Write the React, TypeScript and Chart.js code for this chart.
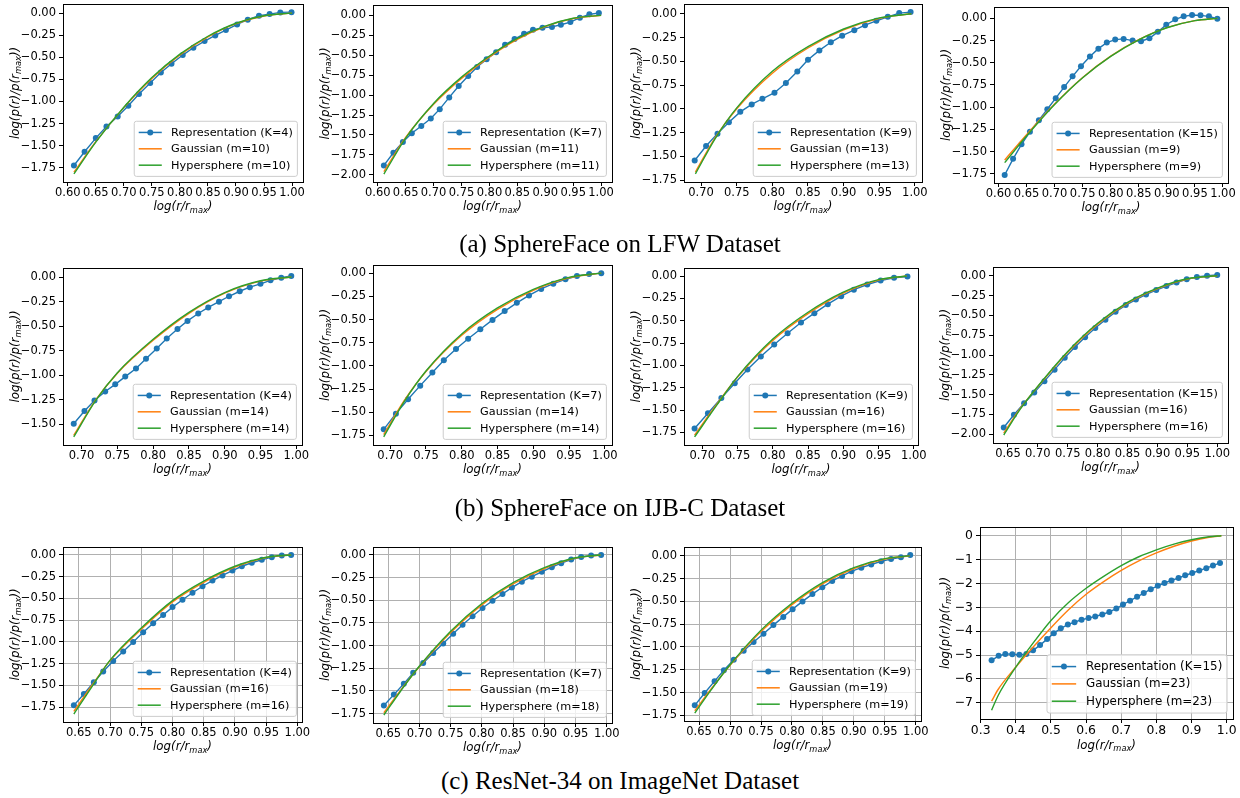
import React, { useEffect, useRef } from "react";
import { Chart, registerables } from "chart.js";
Chart.register(...registerables);

const BLUE = "#1f77b4";
const ORANGE = "#ff7f0e";
const GREEN = "#2ca02c";

// ---------- tick values ----------
const xTicks60 = [0.6, 0.65, 0.7, 0.75, 0.8, 0.85, 0.9, 0.95, 1.0];
const xTicks65 = [0.65, 0.7, 0.75, 0.8, 0.85, 0.9, 0.95, 1.0];
const xTicks70 = [0.7, 0.75, 0.8, 0.85, 0.9, 0.95, 1.0];
const xTicks30 = [0.3, 0.4, 0.5, 0.6, 0.7, 0.8, 0.9, 1.0];
const yTicks150 = [-1.5, -1.25, -1.0, -0.75, -0.5, -0.25, 0];
const yTicks175 = [-1.75, -1.5, -1.25, -1.0, -0.75, -0.5, -0.25, 0];
const yTicks200 = [-2.0, -1.75, -1.5, -1.25, -1.0, -0.75, -0.5, -0.25, 0];
const yTicks7 = [-7, -6, -5, -4, -3, -2, -1, 0];

// ---------- legend numbers and captions ----------
const repK = [4, 7, 9, 15, 4, 7, 9, 15, 4, 7, 9, 15];
const fitM = [10, 11, 13, 9, 14, 14, 16, 16, 16, 18, 19, 23];
const captions = [
  "(a) SphereFace on LFW Dataset",
  "(b) SphereFace on IJB-C Dataset",
  "(c) ResNet-34 on ImageNet Dataset",
];

// ---------- (a) SphereFace on LFW ----------
const lfw4RepX = [0.611, 0.630, 0.650, 0.669, 0.689, 0.708, 0.727, 0.747, 0.766, 0.785, 0.805, 0.824, 0.844, 0.863, 0.882, 0.902, 0.921, 0.941, 0.960, 0.979, 0.999];
const lfw4RepY = [-1.725, -1.570, -1.415, -1.283, -1.170, -1.049, -0.917, -0.792, -0.672, -0.574, -0.475, -0.392, -0.317, -0.253, -0.192, -0.128, -0.075, -0.030, -0.011, 0.008, 0.011];
const lfw4FitX = [0.611, 0.65, 0.70, 0.75, 0.80, 0.85, 0.90, 0.95, 1.00];
const lfw4GaussY = [-1.80, -1.455, -1.07, -0.74, -0.475, -0.27, -0.12, -0.033, 0.0];
const lfw4HyperY = [-1.82, -1.46, -1.065, -0.73, -0.465, -0.262, -0.115, -0.03, 0.0];

const lfw7RepX = [0.611, 0.628, 0.645, 0.661, 0.678, 0.695, 0.711, 0.728, 0.745, 0.762, 0.778, 0.795, 0.812, 0.828, 0.845, 0.862, 0.878, 0.895, 0.912, 0.928, 0.945, 0.962, 0.979, 0.996];
const lfw7RepY = [-1.882, -1.723, -1.588, -1.479, -1.387, -1.294, -1.176, -1.029, -0.887, -0.761, -0.647, -0.550, -0.462, -0.370, -0.298, -0.231, -0.181, -0.155, -0.145, -0.118, -0.084, -0.029, 0.013, 0.029];
const lfw7FitX = [0.611, 0.65, 0.70, 0.75, 0.80, 0.85, 0.90, 0.95, 1.00];
const lfw7GaussY = [-1.96, -1.53, -1.115, -0.79, -0.52, -0.30, -0.14, -0.04, 0.0];
const lfw7HyperY = [-1.99, -1.54, -1.105, -0.775, -0.51, -0.29, -0.135, -0.036, 0.0];

const lfw9RepX = [0.691, 0.707, 0.723, 0.739, 0.755, 0.771, 0.786, 0.803, 0.819, 0.835, 0.850, 0.866, 0.882, 0.898, 0.915, 0.930, 0.946, 0.962, 0.978, 0.994];
const lfw9RepY = [-1.544, -1.392, -1.261, -1.141, -1.032, -0.954, -0.894, -0.830, -0.728, -0.608, -0.484, -0.385, -0.300, -0.230, -0.173, -0.120, -0.074, -0.032, 0.007, 0.018];
const lfw9FitX = [0.692, 0.72, 0.75, 0.80, 0.85, 0.90, 0.95, 0.995];
const lfw9GaussY = [-1.665, -1.30, -1.00, -0.625, -0.36, -0.17, -0.048, 0.0];
const lfw9HyperY = [-1.685, -1.31, -0.99, -0.605, -0.345, -0.16, -0.043, 0.0];

const lfw15RepX = [0.611, 0.626, 0.641, 0.656, 0.672, 0.687, 0.702, 0.717, 0.732, 0.747, 0.763, 0.778, 0.793, 0.808, 0.823, 0.839, 0.854, 0.869, 0.884, 0.899, 0.915, 0.930, 0.945, 0.960, 0.975, 0.990];
const lfw15RepY = [-1.764, -1.582, -1.419, -1.278, -1.146, -1.024, -0.899, -0.774, -0.653, -0.539, -0.429, -0.341, -0.273, -0.239, -0.231, -0.250, -0.258, -0.224, -0.152, -0.072, -0.011, 0.023, 0.038, 0.034, 0.023, -0.004];
const lfw15FitX = [0.611, 0.65, 0.70, 0.75, 0.80, 0.85, 0.90, 0.95, 0.99];
const lfw15GaussY = [-1.595, -1.31, -0.965, -0.665, -0.425, -0.24, -0.105, -0.026, 0.0];
const lfw15HyperY = [-1.625, -1.325, -0.97, -0.668, -0.428, -0.242, -0.106, -0.026, 0.0];

// ---------- (b) SphereFace on IJB-C ----------
const ijb4RepX = [0.689, 0.704, 0.718, 0.733, 0.747, 0.761, 0.776, 0.790, 0.805, 0.819, 0.834, 0.848, 0.863, 0.877, 0.892, 0.906, 0.921, 0.935, 0.950, 0.964, 0.979, 0.993];
const ijb4RepY = [-1.496, -1.366, -1.259, -1.166, -1.094, -1.015, -0.932, -0.832, -0.729, -0.626, -0.530, -0.447, -0.372, -0.310, -0.251, -0.196, -0.145, -0.103, -0.069, -0.034, -0.007, 0.010];
const ijb4FitX = [0.689, 0.72, 0.75, 0.80, 0.85, 0.90, 0.95, 0.993];
const ijb4GaussY = [-1.615, -1.25, -0.98, -0.645, -0.37, -0.165, -0.042, 0.0];
const ijb4HyperY = [-1.63, -1.255, -0.975, -0.635, -0.36, -0.158, -0.038, 0.0];

const ijb7RepX = [0.691, 0.708, 0.725, 0.742, 0.759, 0.775, 0.792, 0.809, 0.826, 0.843, 0.860, 0.877, 0.894, 0.911, 0.928, 0.945, 0.961, 0.978, 0.995];
const ijb7RepY = [-1.684, -1.515, -1.36, -1.213, -1.072, -0.94, -0.818, -0.708, -0.605, -0.504, -0.409, -0.32, -0.24, -0.17, -0.113, -0.067, -0.031, -0.01, 0.0];
const ijb7FitX = [0.691, 0.72, 0.75, 0.80, 0.85, 0.90, 0.95, 0.995];
const ijb7GaussY = [-1.74, -1.37, -1.06, -0.67, -0.39, -0.185, -0.05, 0.0];
const ijb7HyperY = [-1.765, -1.38, -1.055, -0.655, -0.375, -0.175, -0.045, 0.0];

const ijb9RepX = [0.689, 0.708, 0.727, 0.746, 0.764, 0.783, 0.802, 0.821, 0.840, 0.859, 0.878, 0.897, 0.915, 0.934, 0.953, 0.972, 0.991];
const ijb9RepY = [-1.705, -1.535, -1.365, -1.20, -1.045, -0.90, -0.765, -0.64, -0.52, -0.415, -0.315, -0.225, -0.152, -0.095, -0.05, -0.02, -0.005];
const ijb9FitX = [0.689, 0.72, 0.75, 0.80, 0.85, 0.90, 0.95, 0.99];
const ijb9GaussY = [-1.78, -1.44, -1.13, -0.72, -0.42, -0.19, -0.045, 0.0];
const ijb9HyperY = [-1.80, -1.45, -1.125, -0.705, -0.405, -0.18, -0.04, 0.0];

const ijb15RepX = [0.643, 0.660, 0.677, 0.694, 0.711, 0.728, 0.745, 0.762, 0.779, 0.796, 0.813, 0.830, 0.847, 0.864, 0.881, 0.898, 0.915, 0.932, 0.949, 0.966, 0.983, 1.000];
const ijb15RepY = [-1.915, -1.755, -1.61, -1.475, -1.33, -1.185, -1.035, -0.90, -0.775, -0.66, -0.555, -0.455, -0.37, -0.30, -0.235, -0.18, -0.13, -0.085, -0.045, -0.015, 0.0, 0.01];
const ijb15FitX = [0.643, 0.67, 0.70, 0.75, 0.80, 0.85, 0.90, 0.95, 1.00];
const ijb15GaussY = [-1.985, -1.68, -1.40, -0.965, -0.61, -0.345, -0.163, -0.042, 0.0];
const ijb15HyperY = [-2.01, -1.69, -1.395, -0.955, -0.60, -0.335, -0.155, -0.038, 0.0];

// ---------- (c) ResNet-34 on ImageNet ----------
const img4RepX = [0.642, 0.658, 0.674, 0.689, 0.705, 0.721, 0.737, 0.753, 0.769, 0.785, 0.800, 0.816, 0.832, 0.848, 0.864, 0.880, 0.896, 0.911, 0.927, 0.943, 0.959, 0.975, 0.990];
const img4RepY = [-1.73, -1.60, -1.465, -1.34, -1.22, -1.11, -1.00, -0.89, -0.785, -0.69, -0.60, -0.515, -0.435, -0.36, -0.295, -0.235, -0.18, -0.13, -0.09, -0.055, -0.025, -0.005, 0.0];
const img4FitX = [0.642, 0.67, 0.70, 0.75, 0.80, 0.85, 0.90, 0.95, 0.99];
const img4GaussY = [-1.80, -1.51, -1.215, -0.855, -0.54, -0.315, -0.14, -0.03, 0.0];
const img4HyperY = [-1.83, -1.525, -1.21, -0.84, -0.525, -0.30, -0.13, -0.026, 0.0];

const img7RepX = [0.643, 0.659, 0.675, 0.690, 0.706, 0.722, 0.738, 0.754, 0.769, 0.785, 0.801, 0.817, 0.833, 0.848, 0.864, 0.880, 0.896, 0.912, 0.927, 0.943, 0.959, 0.975, 0.991];
const img7RepY = [-1.66, -1.54, -1.42, -1.30, -1.19, -1.08, -0.975, -0.87, -0.77, -0.675, -0.585, -0.505, -0.43, -0.36, -0.295, -0.24, -0.185, -0.135, -0.09, -0.05, -0.022, -0.005, 0.0];
const img7FitX = [0.643, 0.67, 0.70, 0.75, 0.80, 0.85, 0.90, 0.95, 0.99];
const img7GaussY = [-1.74, -1.49, -1.23, -0.855, -0.55, -0.32, -0.15, -0.035, 0.0];
const img7HyperY = [-1.765, -1.50, -1.225, -0.84, -0.535, -0.305, -0.14, -0.03, 0.0];

const img9RepX = [0.643, 0.659, 0.675, 0.690, 0.706, 0.722, 0.738, 0.754, 0.770, 0.786, 0.801, 0.817, 0.833, 0.849, 0.865, 0.881, 0.896, 0.912, 0.928, 0.944, 0.960, 0.976, 0.991];
const img9RepY = [-1.64, -1.505, -1.375, -1.255, -1.14, -1.04, -0.945, -0.855, -0.76, -0.67, -0.585, -0.50, -0.42, -0.345, -0.275, -0.22, -0.17, -0.13, -0.095, -0.06, -0.035, -0.015, 0.01];
const img9FitX = [0.643, 0.67, 0.70, 0.75, 0.80, 0.85, 0.90, 0.95, 0.99];
const img9GaussY = [-1.70, -1.455, -1.20, -0.83, -0.535, -0.305, -0.14, -0.035, 0.0];
const img9HyperY = [-1.725, -1.465, -1.195, -0.815, -0.52, -0.29, -0.13, -0.03, 0.0];

const img15RepX = [0.331, 0.351, 0.370, 0.390, 0.410, 0.430, 0.449, 0.469, 0.489, 0.508, 0.528, 0.548, 0.567, 0.587, 0.607, 0.626, 0.646, 0.666, 0.686, 0.705, 0.725, 0.745, 0.764, 0.784, 0.804, 0.823, 0.843, 0.863, 0.882, 0.902, 0.922, 0.942, 0.961, 0.981];
const img15RepY = [-5.22, -5.03, -4.95, -4.96, -4.99, -4.95, -4.80, -4.58, -4.33, -4.08, -3.88, -3.72, -3.62, -3.52, -3.45, -3.38, -3.30, -3.19, -3.05, -2.88, -2.72, -2.56, -2.40, -2.24, -2.10, -1.98, -1.87, -1.77, -1.66, -1.56, -1.46, -1.36, -1.25, -1.14];
const img15FitX = [0.331, 0.35, 0.40, 0.45, 0.50, 0.55, 0.60, 0.65, 0.70, 0.75, 0.80, 0.85, 0.90, 0.95, 0.985];
const img15GaussY = [-6.93, -6.43, -5.50, -4.65, -3.85, -3.10, -2.45, -1.92, -1.45, -1.05, -0.72, -0.44, -0.22, -0.065, 0.0];
const img15HyperY = [-7.31, -6.68, -5.50, -4.48, -3.55, -2.80, -2.20, -1.70, -1.25, -0.88, -0.59, -0.35, -0.17, -0.045, 0.0];

// ---------- layout (plot rectangles in page px: left, top, right, bottom) ----------
const plotRects = [
  [63, 4, 303, 182], [373, 5, 612, 182], [684, 4, 922, 182], [994, 7, 1228, 183],
  [63, 268, 302, 445], [373, 265, 612, 445], [684, 268, 918, 445], [993, 267, 1228, 443],
  [63, 547, 302, 722], [373, 547, 612, 723], [684, 547, 921, 721], [980, 527, 1233, 719],
];
const captionCenters = [243, 507, 780];

type Spec = {
  xr: number[]; yr: number[]; xt: number[]; yt: number[]; xd: number; yd: number; grid: boolean;
  repX: number[]; repY: number[]; fitX: number[]; gY: number[]; hY: number[];
  fs: number; tfs: number; xOff: number; yOff: number;
};

const specs: Spec[] = [
  { xr: [0.5915, 1.0195], yr: [-1.912, 0.103], xt: xTicks60, yt: yTicks175, xd: 2, yd: 2, grid: false, repX: lfw4RepX, repY: lfw4RepY, fitX: lfw4FitX, gY: lfw4GaussY, hY: lfw4HyperY, fs: 11.25, tfs: 11.5, xOff: 24.5, yOff: 48 },
  { xr: [0.5915, 1.0195], yr: [-2.09, 0.13], xt: xTicks60, yt: yTicks200, xd: 2, yd: 2, grid: false, repX: lfw7RepX, repY: lfw7RepY, fitX: lfw7FitX, gY: lfw7GaussY, hY: lfw7HyperY, fs: 11.25, tfs: 11.5, xOff: 24.5, yOff: 48 },
  { xr: [0.676, 1.010], yr: [-1.77, 0.103], xt: xTicks70, yt: yTicks175, xd: 2, yd: 2, grid: false, repX: lfw9RepX, repY: lfw9RepY, fitX: lfw9FitX, gY: lfw9GaussY, hY: lfw9HyperY, fs: 11.25, tfs: 11.5, xOff: 24.5, yOff: 48 },
  { xr: [0.592, 1.009], yr: [-1.854, 0.128], xt: xTicks60, yt: yTicks175, xd: 2, yd: 2, grid: false, repX: lfw15RepX, repY: lfw15RepY, fitX: lfw15FitX, gY: lfw15GaussY, hY: lfw15HyperY, fs: 11.25, tfs: 11.5, xOff: 24.5, yOff: 48 },
  { xr: [0.674, 1.008], yr: [-1.712, 0.092], xt: xTicks70, yt: yTicks150, xd: 2, yd: 2, grid: false, repX: ijb4RepX, repY: ijb4RepY, fitX: ijb4FitX, gY: ijb4GaussY, hY: ijb4HyperY, fs: 11.25, tfs: 11.5, xOff: 24.5, yOff: 48 },
  { xr: [0.676, 1.010], yr: [-1.853, 0.088], xt: xTicks70, yt: yTicks175, xd: 2, yd: 2, grid: false, repX: ijb7RepX, repY: ijb7RepY, fitX: ijb7FitX, gY: ijb7GaussY, hY: ijb7HyperY, fs: 11.25, tfs: 11.5, xOff: 24.5, yOff: 48 },
  { xr: [0.674, 1.006], yr: [-1.89, 0.09], xt: xTicks70, yt: yTicks175, xd: 2, yd: 2, grid: false, repX: ijb9RepX, repY: ijb9RepY, fitX: ijb9FitX, gY: ijb9GaussY, hY: ijb9HyperY, fs: 11.25, tfs: 11.5, xOff: 24.5, yOff: 48 },
  { xr: [0.625, 1.018], yr: [-2.111, 0.111], xt: xTicks65, yt: yTicks200, xd: 2, yd: 2, grid: false, repX: ijb15RepX, repY: ijb15RepY, fitX: ijb15FitX, gY: ijb15GaussY, hY: ijb15HyperY, fs: 11.25, tfs: 11.5, xOff: 24.5, yOff: 48 },
  { xr: [0.6246, 1.0074], yr: [-1.9215, 0.0915], xt: xTicks65, yt: yTicks175, xd: 2, yd: 2, grid: true, repX: img4RepX, repY: img4RepY, fitX: img4FitX, gY: img4GaussY, hY: img4HyperY, fs: 11.25, tfs: 11.5, xOff: 24.5, yOff: 48 },
  { xr: [0.6256, 1.0084], yr: [-1.853, 0.088], xt: xTicks65, yt: yTicks175, xd: 2, yd: 2, grid: true, repX: img7RepX, repY: img7RepY, fitX: img7FitX, gY: img7GaussY, hY: img7HyperY, fs: 11.25, tfs: 11.5, xOff: 24.5, yOff: 48 },
  { xr: [0.6256, 1.0084], yr: [-1.812, 0.097], xt: xTicks65, yt: yTicks175, xd: 2, yd: 2, grid: true, repX: img9RepX, repY: img9RepY, fitX: img9FitX, gY: img9GaussY, hY: img9HyperY, fs: 11.25, tfs: 11.5, xOff: 24.5, yOff: 48 },
  { xr: [0.298, 1.018], yr: [-7.676, 0.366], xt: xTicks30, yt: yTicks7, xd: 1, yd: 0, grid: true, repX: img15RepX, repY: img15RepY, fitX: img15FitX, gY: img15GaussY, hY: img15HyperY, fs: 11.9, tfs: 12.4, xOff: 26, yOff: 35 },
];

const WY = 63; // width reserved for y axis inside each canvas
const PR = 15; // right padding
const PT = 12; // top padding
const HX = 36; // height reserved for x axis

const fmt = (v: number, d: number) => (v < -1e-9 ? "\u2212" : "") + Math.abs(v).toFixed(d);

function drawMath(ctx: CanvasRenderingContext2D, parts: string[], cx: number, cy: number, rot: number, fs: number) {
  ctx.save();
  ctx.translate(cx, cy);
  ctx.rotate(rot);
  const main = `italic ${fs}px "DejaVu Sans"`;
  const sub = `italic ${fs * 0.7}px "DejaVu Sans"`;
  ctx.font = main;
  const w0 = ctx.measureText(parts[0]).width;
  const w2 = ctx.measureText(parts[2]).width;
  ctx.font = sub;
  const w1 = ctx.measureText(parts[1]).width;
  let x = -(w0 + w1 + w2) / 2;
  const base = fs * 0.33;
  ctx.fillStyle = "#000";
  ctx.textBaseline = "alphabetic";
  ctx.textAlign = "left";
  ctx.font = main;
  ctx.fillText(parts[0], x, base);
  x += w0;
  ctx.font = sub;
  ctx.fillText(parts[1], x, base + fs * 0.2);
  x += w1;
  ctx.font = main;
  ctx.fillText(parts[2], x, base);
  ctx.restore();
}

function roundRectPath(ctx: CanvasRenderingContext2D, x: number, y: number, w: number, h: number, r: number) {
  ctx.beginPath();
  ctx.moveTo(x + r, y);
  ctx.lineTo(x + w - r, y);
  ctx.arcTo(x + w, y, x + w, y + r, r);
  ctx.lineTo(x + w, y + h - r);
  ctx.arcTo(x + w, y + h, x + w - r, y + h, r);
  ctx.lineTo(x + r, y + h);
  ctx.arcTo(x, y + h, x, y + h - r, r);
  ctx.lineTo(x, y + r);
  ctx.arcTo(x, y, x + r, y, r);
  ctx.closePath();
}

function Panel({ idx }: { idx: number }) {
  const ref = useRef<HTMLCanvasElement | null>(null);
  const s = specs[idx];
  const [L, T, R, B] = plotRects[idx];
  const W = WY + (R - L) + PR;
  const H = PT + (B - T) + HX;

  useEffect(() => {
    const labels = [
      `Representation (K=${repK[idx]})`,
      `Gaussian (m=${fitM[idx]})`,
      `Hypersphere (m=${fitM[idx]})`,
    ];
    const fs = s.fs;
    const decor = {
      id: "decor",
      afterDatasetsDraw(chart: any) {
        const { ctx, chartArea: a } = chart;
        ctx.save();
        ctx.strokeStyle = "#000";
        ctx.lineWidth = 1;
        ctx.strokeRect(a.left + 0.5, a.top + 0.5, a.right - a.left, a.bottom - a.top);
        ctx.restore();
        drawMath(ctx, ["log(r/r", "max", ")"], (a.left + a.right) / 2, a.bottom + s.xOff, 0, 11.8);
        drawMath(ctx, ["log(p(r)/p(r", "max", "))"], a.left - s.yOff, (a.top + a.bottom) / 2, -Math.PI / 2, 11.8);
      },
      afterDraw(chart: any) {
        const { ctx, chartArea: a } = chart;
        ctx.save();
        ctx.font = `${fs}px "DejaVu Sans"`;
        const maxW = Math.max(...labels.map((l) => ctx.measureText(l).width));
        const pad = 0.4 * fs, hl = 2.05 * fs, gap = 0.83 * fs, pitch = 1.455 * fs;
        const bw = 2 * pad + hl + gap + maxW;
        const bh = 4.9 * fs;
        const right = a.right - 0.5 * fs;
        const bottom = a.bottom - 0.5 * fs;
        const left = right - bw;
        const top = bottom - bh;
        roundRectPath(ctx, left, top, bw, bh, 0.2 * fs);
        ctx.fillStyle = "rgba(255,255,255,0.8)";
        ctx.fill();
        ctx.strokeStyle = "#cccccc";
        ctx.lineWidth = 1;
        ctx.stroke();
        const colors = [BLUE, ORANGE, GREEN];
        const y0 = top + (bh - 2 * pitch) / 2;
        labels.forEach((lab, i) => {
          const cy = y0 + i * pitch;
          const x0 = left + pad;
          ctx.strokeStyle = colors[i];
          ctx.lineWidth = 1.5;
          ctx.beginPath();
          ctx.moveTo(x0, cy);
          ctx.lineTo(x0 + hl, cy);
          ctx.stroke();
          if (i === 0) {
            ctx.fillStyle = BLUE;
            ctx.beginPath();
            ctx.arc(x0 + hl / 2, cy, 3, 0, Math.PI * 2);
            ctx.fill();
          }
          ctx.fillStyle = "#000";
          ctx.textBaseline = "middle";
          ctx.textAlign = "left";
          ctx.fillText(lab, x0 + hl + gap, cy + 0.5);
        });
        ctx.restore();
      },
    };

    const pts = (xs: number[], ys: number[]) => xs.map((x, i) => ({ x, y: ys[i] }));
    const tickFont = { family: "DejaVu Sans", size: s.tfs, lineHeight: 1.2 };
    const chart = new Chart(ref.current as HTMLCanvasElement, {
      type: "line",
      data: {
        datasets: [
          {
            label: labels[0],
            data: pts(s.repX, s.repY),
            borderColor: BLUE,
            backgroundColor: BLUE,
            borderWidth: 1.4,
            pointRadius: 3,
            pointBorderWidth: 0,
            pointBackgroundColor: BLUE,
            tension: 0,
            order: 2,
          },
          {
            label: labels[1],
            data: pts(s.fitX, s.gY),
            borderColor: ORANGE,
            borderWidth: 1.4,
            pointRadius: 0,
            cubicInterpolationMode: "monotone",
            order: 1,
          },
          {
            label: labels[2],
            data: pts(s.fitX, s.hY),
            borderColor: GREEN,
            borderWidth: 1.4,
            pointRadius: 0,
            cubicInterpolationMode: "monotone",
            order: 0,
          },
        ],
      },
      options: {
        animation: false,
        responsive: false,
        maintainAspectRatio: false,
        devicePixelRatio: 1,
        events: [],
        layout: { padding: { top: PT, right: PR, left: 0, bottom: 0 } },
        plugins: { legend: { display: false }, tooltip: { enabled: false }, title: { display: false } },
        scales: {
          x: {
            type: "linear",
            min: s.xr[0],
            max: s.xr[1],
            afterFit: (sc: any) => { sc.height = HX; },
            afterBuildTicks: (sc: any) => { sc.ticks = s.xt.map((v) => ({ value: v })); },
            ticks: {
              autoSkip: false, maxRotation: 0, minRotation: 0, color: "#000", font: tickFont, padding: 0,
              callback: (v: any) => fmt(Number(v), s.xd),
            },
            grid: {
              display: true, drawOnChartArea: s.grid, color: "#b0b0b0", lineWidth: 1,
              drawTicks: true, tickLength: 4, tickColor: "#000", tickWidth: 1,
            },
            border: { display: false },
          },
          y: {
            type: "linear",
            min: s.yr[0],
            max: s.yr[1],
            afterFit: (sc: any) => { sc.width = WY; },
            afterBuildTicks: (sc: any) => { sc.ticks = s.yt.map((v) => ({ value: v })); },
            ticks: {
              autoSkip: false, color: "#000", font: tickFont, padding: 3,
              callback: (v: any) => fmt(Number(v), s.yd),
            },
            grid: {
              display: true, drawOnChartArea: s.grid, color: "#b0b0b0", lineWidth: 1,
              drawTicks: true, tickLength: 4, tickColor: "#000", tickWidth: 1,
            },
            border: { display: false },
          },
        },
      } as any,
      plugins: [decor],
    } as any);
    return () => chart.destroy();
  }, []);

  return (
    <canvas
      ref={ref}
      width={W}
      height={H}
      style={{ position: "absolute", left: L - WY, top: T - PT, width: W, height: H }}
    />
  );
}

export default function App() {
  return (
    <div style={{ position: "absolute", left: 0, top: 0, width: 1240, height: 798, overflow: "hidden", background: "#fff" }}>
      {plotRects.map((_, i) => (
        <Panel key={i} idx={i} />
      ))}
      {captions.map((c, i) => (
        <div
          key={c}
          style={{
            position: "absolute", left: 0, width: 1240, top: captionCenters[i] - 12.5, textAlign: "center",
            fontFamily: '"Liberation Serif", "Times New Roman", serif', fontSize: 25, lineHeight: "25px", color: "#000",
          }}
        >
          {c}
        </div>
      ))}
    </div>
  );
}
